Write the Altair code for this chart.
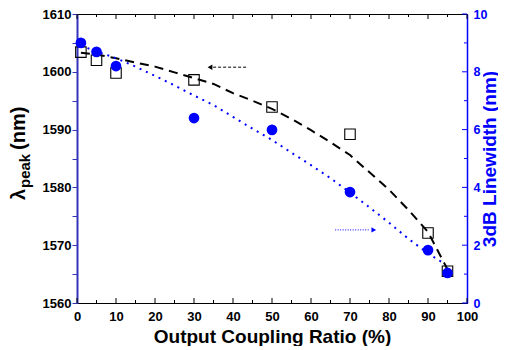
import altair as alt
import pandas as pd

# ---- data ----
ratio = [1, 5, 10, 30, 50, 70, 90, 95]
peak_nm = [1603.4, 1602.0, 1599.8, 1598.6, 1593.9, 1589.2, 1572.1, 1565.5]
linewidth_nm = [9.0, 8.69, 8.2, 6.4, 5.99, 3.84, 1.83, 1.04]

peak_fit_x = [1, 5, 10, 15, 20, 25, 30, 35, 40, 45, 50, 55, 60, 65, 70, 75, 80, 85, 90, 95]
peak_fit_y = [1603.3, 1603.0, 1602.35, 1601.6, 1600.9, 1599.9, 1598.9, 1597.9, 1596.3, 1595.0,
              1593.6, 1591.85, 1589.9, 1587.8, 1585.6, 1582.6, 1579.6, 1576.1, 1572.3, 1565.8]

lw_fit_x = [1, 5, 10, 15, 20, 25, 30, 35, 40, 45, 50, 55, 60, 65, 70, 75, 80, 85, 90, 93.5]
lw_fit_y = [8.9, 8.71, 8.47, 8.18, 7.86, 7.53, 7.18, 6.85, 6.44, 6.03,
            5.64, 5.2, 4.77, 4.32, 3.82, 3.31, 2.78, 2.22, 1.72, 1.42]

# arrows (tail x, head-base x), head-centre x, level
arrow_left_x = [43.8, 34.9]
arrow_left_head = [34.1]
arrow_left_y = 1600.8
arrow_right_x = [66.2, 75.1]
arrow_right_head = [76.1]
arrow_right_y = 2.53

x_major = [0, 10, 20, 30, 40, 50, 60, 70, 80, 90, 100]
x_minor = [5, 15, 25, 35, 45, 55, 65, 75, 85, 95]
left_ticks = [1560, 1565, 1570, 1575, 1580, 1585, 1590, 1595, 1600, 1605, 1610]
right_major = [0, 2, 4, 6, 8, 10]
right_minor = [1, 3, 5, 7, 9]

title_parts = ["\u03bb", "peak", "(nm)"]

W, H = 390, 289
FONT = "Liberation Sans"
BLUE = "#0000ff"
NAVY = "#3333bb"

sq = pd.DataFrame({"x": ratio, "y": peak_nm})
ci = pd.DataFrame({"x": ratio, "y": linewidth_nm})
pfit = pd.DataFrame({"x": peak_fit_x, "y": peak_fit_y})
lfit = pd.DataFrame({"x": lw_fit_x, "y": lw_fit_y})

xs = alt.Scale(domain=[0, 100], nice=False, zero=False)
yl = alt.Scale(domain=[1560, 1610], nice=False, zero=False)
yr = alt.Scale(domain=[0, 10], nice=False, zero=False)

x_axis = alt.Axis(values=x_major, ticks=False, domainColor="black", domainWidth=1,
                  labelFont=FONT, labelFontSize=13, labelFontWeight="bold", labelColor="black",
                  labelPadding=7, labelFlush=False, grid=False,
                  title="Output Coupling Ratio (%)", titleFont=FONT, titleFontSize=19,
                  titleFontWeight="bold", titleColor="black", titleY=39,
                  titleBaseline="alphabetic")

y_left_axis = alt.Axis(values=left_ticks, tickSize=5, tickColor=NAVY, tickWidth=1,
                       domainColor=NAVY, domainWidth=2, grid=False, labelFlush=False,
                       labelExpr="datum.value % 10 === 0 ? datum.value : ''",
                       labelFont=FONT, labelFontSize=13, labelFontWeight="bold",
                       labelColor="black", labelPadding=1, title="")

y_right_axis = alt.Axis(orient="right", values=right_major, ticks=False,
                        domainColor=BLUE, domainWidth=1.5, grid=False, labelFlush=False,
                        labelFont=FONT, labelFontSize=12.5, labelFontWeight="bold",
                        labelColor=BLUE, labelPadding=6,
                        title="3dB Linewidth (nm)", titleFont=FONT, titleFontSize=19,
                        titleFontWeight="bold", titleColor=BLUE, titleAngle=270,
                        titleX=28, titleY=H / 2, titleAlign="center",
                        titleBaseline="alphabetic")

XE = alt.X("x:Q", scale=xs, axis=x_axis)
YL = alt.Y("y:Q", scale=yl, axis=y_left_axis)
YR = alt.Y("y:Q", scale=yr, axis=y_right_axis)

# ---- left (wavelength) group ----
squares = alt.Chart(sq).mark_point(shape="square", filled=False, stroke="black",
                                    strokeWidth=1.1, size=110, opacity=1).encode(x=XE, y=YL)

dash = alt.Chart(pfit).mark_line(color="black", strokeWidth=2, strokeDash=[9, 6]).encode(x=XE, y=YL)

arr1 = alt.Chart(pd.DataFrame({"x": arrow_left_x, "y": [arrow_left_y] * 2})).mark_line(
    color="black", strokeWidth=1, strokeDash=[3, 2]).encode(x=XE, y=YL)
arr1h = alt.Chart(pd.DataFrame({"x": arrow_left_head, "y": [arrow_left_y]})).mark_point(
    shape="triangle-left", filled=True, color="black", size=30, opacity=1).encode(x=XE, y=YL)

bmaj = alt.Chart(pd.DataFrame({"x": x_major})).mark_rule(color="black", strokeWidth=1).encode(
    x=XE, y=alt.value(H), y2=alt.value(H - 5))
bmin = alt.Chart(pd.DataFrame({"x": x_minor})).mark_rule(color="black", strokeWidth=1).encode(
    x=XE, y=alt.value(H), y2=alt.value(H - 3))
tmaj = alt.Chart(pd.DataFrame({"x": x_major})).mark_rule(color="black", strokeWidth=1).encode(
    x=XE, y=alt.value(0), y2=alt.value(5))
tmin = alt.Chart(pd.DataFrame({"x": x_minor})).mark_rule(color="black", strokeWidth=1).encode(
    x=XE, y=alt.value(0), y2=alt.value(3))

tdf = pd.DataFrame({"t": title_parts})
t_lambda = alt.Chart(tdf).transform_filter(alt.datum.t == title_parts[0]).mark_text(
    angle=270, align="left", baseline="alphabetic", font=FONT, fontSize=20,
    fontWeight="bold", color="black").encode(text="t:N", x=alt.value(-52), y=alt.value(186))
t_peak = alt.Chart(tdf).transform_filter(alt.datum.t == title_parts[1]).mark_text(
    angle=270, align="left", baseline="alphabetic", font=FONT, fontSize=15,
    fontWeight="bold", color="black").encode(text="t:N", x=alt.value(-47), y=alt.value(174))
t_nm = alt.Chart(tdf).transform_filter(alt.datum.t == title_parts[2]).mark_text(
    angle=270, align="left", baseline="alphabetic", font=FONT, fontSize=20,
    fontWeight="bold", color="black").encode(text="t:N", x=alt.value(-52), y=alt.value(136))

left = alt.layer(squares, bmaj, bmin, tmaj, tmin, dash, arr1, arr1h, t_lambda, t_peak, t_nm)

# ---- right (linewidth) group ----
circles = alt.Chart(ci).mark_circle(color=BLUE, size=115, opacity=1).encode(x=XE, y=YR)
dots = alt.Chart(lfit).mark_line(color=BLUE, strokeWidth=2, strokeDash=[2, 5]).encode(x=XE, y=YR)
arr2 = alt.Chart(pd.DataFrame({"x": arrow_right_x, "y": [arrow_right_y] * 2})).mark_line(
    color=BLUE, strokeWidth=1, strokeDash=[1, 1.5]).encode(x=XE, y=YR)
arr2h = alt.Chart(pd.DataFrame({"x": arrow_right_head, "y": [arrow_right_y]})).mark_point(
    shape="triangle-right", filled=True, color=BLUE, size=30, opacity=1).encode(x=XE, y=YR)
rmaj = alt.Chart(pd.DataFrame({"y": right_major})).mark_rule(color=BLUE, strokeWidth=1).encode(
    y=YR, x=alt.value(W), x2=alt.value(W - 5))
rmin = alt.Chart(pd.DataFrame({"y": right_minor})).mark_rule(color=BLUE, strokeWidth=1).encode(
    y=YR, x=alt.value(W), x2=alt.value(W - 3))

right = alt.layer(circles, rmaj, rmin, dots, arr2, arr2h)

chart = alt.layer(left, right).resolve_scale(y="independent").properties(
    width=W, height=H,
    autosize=alt.AutoSizeParams(type="none"),
    padding={"left": 69, "top": 6, "right": 31, "bottom": 43},
    background="white",
).configure_view(stroke="black", strokeWidth=1)

chart.save("out.html", embed_options={"renderer": "svg", "actions": False})
